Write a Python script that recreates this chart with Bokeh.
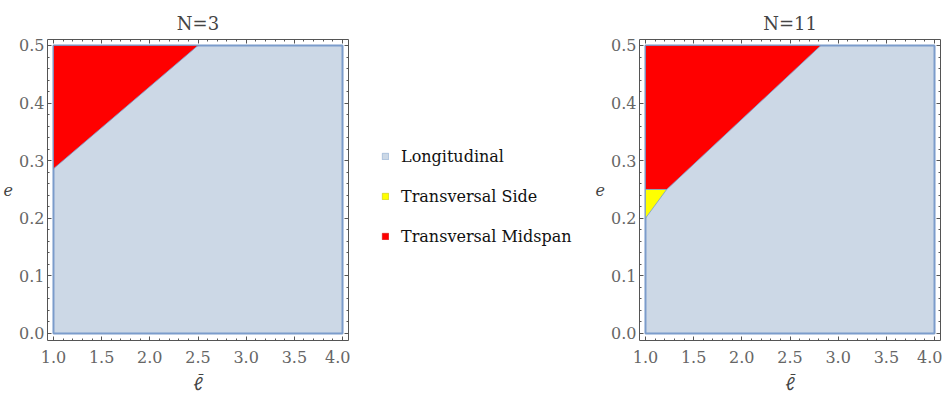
from bokeh.plotting import figure
from bokeh.layouts import row
from bokeh.models import Range1d, LinearAxis, Legend, LegendItem, FixedTicker, PrintfTickFormatter
from bokeh.embed import file_html
from bokeh.resources import INLINE

# ---- data ----
titles = ["N=3", "N=11"]
full_x = [1.0, 4.0, 4.0, 1.0]
full_y = [0.0, 0.0, 0.5, 0.5]

n3_mid_x = [1.0, 2.5, 1.0]
n3_mid_y = [0.5, 0.5, 0.286]

n11_mid_x = [1.0, 2.82, 1.22, 1.0]
n11_mid_y = [0.5, 0.5, 0.25, 0.25]
n11_side_x = [1.0, 1.22, 1.0]
n11_side_y = [0.25, 0.25, 0.2]

legend_labels = ["Longitudinal", "Transversal Side", "Transversal Midspan"]
x_label = "\u2113\u0304"
y_label = "e"
x_ticks = [1.0, 1.5, 2.0, 2.5, 3.0, 3.5, 4.0]
y_ticks = [0.0, 0.1, 0.2, 0.3, 0.4, 0.5]

C_LONG = "#CCD8E6"
C_EDGE = "#7B9CCB"
C_SIDE = "#FFFF00"
C_MID = "#FF0000"
FRAME = "#555555"
TICKLBL = "#666666"
SERIF = "DejaVu Serif"


def style_axis(ax, show_labels, standoff=3):
    ax.axis_line_color = FRAME
    ax.axis_line_width = 1
    ax.major_tick_in = 4
    ax.major_tick_out = 0
    ax.minor_tick_in = 2
    ax.minor_tick_out = 0
    ax.major_tick_line_color = FRAME
    ax.minor_tick_line_color = FRAME
    ax.major_label_text_font = SERIF
    ax.major_label_text_font_size = "16px"
    ax.major_label_text_color = TICKLBL
    ax.major_label_standoff = standoff
    ax.formatter = PrintfTickFormatter(format="%.1f")
    if not show_labels:
        ax.major_label_text_font_size = "0px"
        ax.major_label_text_alpha = 0
        ax.major_label_standoff = 0
        ax.axis_label_standoff = 0


def make_fig(title, polys, left_border):
    p = figure(frame_width=301, frame_height=301, output_backend="svg", toolbar_location=None,
               x_range=Range1d(0.938, 4.062), y_range=Range1d(-0.0122, 0.5104),
               x_axis_location=None, y_axis_location=None,
               min_border_left=left_border, min_border_right=2,
               min_border_top=39, min_border_bottom=40)
    p.grid.visible = False
    p.outline_line_color = None
    p.background_fill_color = "white"
    p.title.text = title
    p.title.align = "center"
    p.title.text_font = SERIF
    p.title.text_font_size = "18px"
    p.title.text_font_style = "normal"
    p.title.text_color = "#444444"
    p.title.standoff = 12

    xt = FixedTicker(ticks=x_ticks, minor_ticks=[round(1.0 + 0.1 * i, 2) for i in range(31)])
    yt = FixedTicker(ticks=y_ticks, minor_ticks=[round(0.02 * i, 2) for i in range(26)])

    bx = LinearAxis(ticker=xt, axis_label=x_label)
    style_axis(bx, True, standoff=10)
    bx.axis_label_text_font = "Lato"
    bx.axis_label_text_font_style = "italic"
    bx.axis_label_text_font_size = "18px"
    bx.axis_label_text_color = "#444444"
    bx.axis_label_standoff = 6
    p.add_layout(bx, "below")

    ly = LinearAxis(ticker=yt, axis_label=y_label)
    style_axis(ly, True)
    ly.axis_label_text_font = SERIF
    ly.axis_label_text_font_style = "italic"
    ly.axis_label_text_font_size = "16px"
    ly.axis_label_text_color = "#444444"
    ly.axis_label_standoff = 3
    ly.axis_label_orientation = "horizontal"
    p.add_layout(ly, "left")

    tx = LinearAxis(ticker=xt)
    style_axis(tx, False)
    p.add_layout(tx, "above")
    ry = LinearAxis(ticker=yt)
    style_axis(ry, False)
    p.add_layout(ry, "right")

    p.patch(full_x, full_y, fill_color=C_LONG, line_color=C_EDGE, line_width=2)
    for xs, ys, col in polys:
        p.patch(xs, ys, fill_color=col, line_color=C_EDGE, line_width=1, line_alpha=0.8)
    return p


p1 = make_fig(titles[0], [(n3_mid_x, n3_mid_y, C_MID)], 41)
p2 = make_fig(titles[1], [(n11_mid_x, n11_mid_y, C_MID), (n11_side_x, n11_side_y, C_SIDE)], 51)

# middle legend figure (its renderers lie outside its visible range; only the legend shows)
pm = figure(width=238, height=385, output_backend="svg", toolbar_location=None,
            x_range=Range1d(-10, -9), y_range=Range1d(-10, -9),
            min_border=0)
pm.axis.visible = False
pm.grid.visible = False
pm.outline_line_color = None
r_long = pm.patch(full_x, full_y, fill_color=C_LONG, line_color=C_EDGE, line_width=0.5)
r_side = pm.patch(n11_side_x, n11_side_y, fill_color=C_SIDE, line_color="#BBBB00", line_width=0.5)
r_mid = pm.patch(n3_mid_x, n3_mid_y, fill_color=C_MID, line_color="#CC0000", line_width=0.5)
leg = Legend(items=[LegendItem(label=legend_labels[0], renderers=[r_long]),
                    LegendItem(label=legend_labels[1], renderers=[r_side]),
                    LegendItem(label=legend_labels[2], renderers=[r_mid])],
             location=(31, 83))
leg.border_line_color = None
leg.background_fill_alpha = 0
leg.padding = 0
leg.margin = 0
leg.glyph_width = 8
leg.glyph_height = 8
leg.label_standoff = 12
leg.label_text_font = SERIF
leg.label_text_font_size = "16px"
leg.label_text_color = "#111111"
leg.label_height = 20
leg.spacing = 20
pm.add_layout(leg)

layout = row(p1, pm, p2)
open("out.html", "w").write(file_html(layout, INLINE))
